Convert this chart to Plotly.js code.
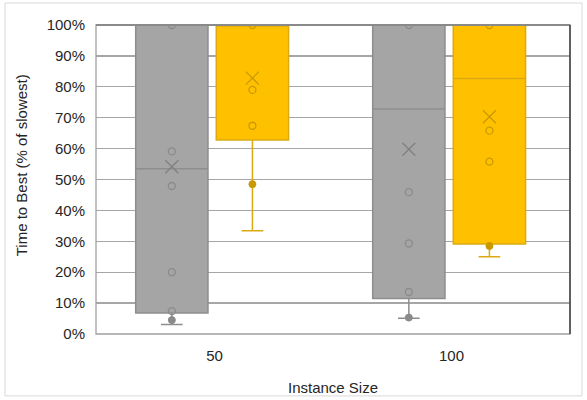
<!DOCTYPE html>
<html>
<head>
<meta charset="utf-8">
<script src="https://cdn.plot.ly/plotly-3.0.1.min.js"></script>
<style>
html,body{margin:0;padding:0;background:#fff;}
#chart{width:587px;height:400px;}
</style>
</head>
<body>
<div id="chart"></div>
<script>
// ---- data (fractions of slowest) ----
var categories = ['50', '100'];

var grayQ1     = [0.068, 0.115];
var grayMedian = [0.535, 0.728];
var grayQ3     = [1.000, 1.000];
var grayLower  = [0.031, 0.051];
var grayUpper  = [1.000, 1.000];
var grayMean   = [0.541, 0.598];
var grayPoints = [[1.000, 0.591, 0.479, 0.200, 0.074], [1.000, 0.459, 0.293, 0.136]];
var grayFilled = [0.045, 0.053];

var goldQ1     = [0.628, 0.291];
var goldMedian = [1.000, 0.827];
var goldQ3     = [1.000, 1.000];
var goldLower  = [0.334, 0.250];
var goldUpper  = [1.000, 1.000];
var goldMean   = [0.828, 0.703];
var goldPoints = [[1.000, 0.790, 0.674], [1.000, 0.658, 0.558]];
var goldFilled = [0.485, 0.285];

var yTickVals = [0, 0.1, 0.2, 0.3, 0.4, 0.5, 0.6, 0.7, 0.8, 0.9, 1.0];
var xTitle = 'Instance Size';
var yTitle = 'Time to Best (% of slowest)';

// ---- layout helpers ----
var grayOffset = -0.18, goldOffset = 0.16, boxWidth = 0.305;
var idx = categories.map(function (c, i) { return i; });
function posArr(off) { return idx.map(function (i) { return i + off; }); }
function pointTrace(pts, off, color) {
  var xs = [], ys = [];
  pts.forEach(function (arr, i) {
    arr.forEach(function (v) { xs.push(i + off); ys.push(v); });
  });
  return {
    type: 'scatter', mode: 'markers', x: xs, y: ys, hoverinfo: 'skip', showlegend: false,
    marker: {symbol: 'circle-open', size: 7, color: color, line: {color: color, width: 1.3}}
  };
}
function filledTrace(vals, off, color) {
  return {
    type: 'scatter', mode: 'markers', x: posArr(off), y: vals, hoverinfo: 'skip', showlegend: false,
    marker: {symbol: 'circle', size: 7, color: color, line: {color: color, width: 1}}
  };
}
function meanTrace(vals, off, color) {
  return {
    type: 'scatter', mode: 'markers', x: posArr(off), y: vals, hoverinfo: 'skip', showlegend: false,
    marker: {symbol: 'x-thin-open', size: 13, color: color, line: {color: color, width: 1.3}}
  };
}

var grayLine = '#8e8e8e', grayFill = '#a5a5a5', grayMark = '#8a8a8a';
var goldLine = '#dcaa10', goldFill = '#ffc000', goldMark = '#c99a00';

var traces = [
  {type: 'box', x: posArr(grayOffset), q1: grayQ1, median: grayMedian, q3: grayQ3,
   lowerfence: grayLower, upperfence: grayUpper, width: boxWidth, whiskerwidth: 0.3,
   boxpoints: false, fillcolor: grayFill, line: {color: grayLine, width: 1.5},
   hoverinfo: 'skip', showlegend: false},
  {type: 'box', x: posArr(goldOffset), q1: goldQ1, median: goldMedian, q3: goldQ3,
   lowerfence: goldLower, upperfence: goldUpper, width: boxWidth, whiskerwidth: 0.3,
   boxpoints: false, fillcolor: goldFill, line: {color: goldLine, width: 1.5},
   hoverinfo: 'skip', showlegend: false},
  pointTrace(grayPoints, grayOffset, grayMark),
  filledTrace(grayFilled, grayOffset, grayMark),
  pointTrace(goldPoints, goldOffset, goldMark),
  filledTrace(goldFilled, goldOffset, goldMark),
  meanTrace(grayMean, grayOffset, '#808080'),
  meanTrace(goldMean, goldOffset, goldMark)
];

var font = {family: 'Liberation Sans, Arial, sans-serif', size: 15, color: '#262626'};

var layout = {
  width: 587, height: 400,
  margin: {l: 96, r: 17, t: 24.5, b: 66},
  paper_bgcolor: '#ffffff', plot_bgcolor: '#ffffff',
  font: font,
  showlegend: false,
  xaxis: {
    range: [-0.5, 1.5], tickvals: idx, ticktext: categories,
    showgrid: false, zeroline: false, showline: false,
    ticks: '', ticklabelstandoff: 11, fixedrange: true,
    tickfont: font,
    title: {text: xTitle, font: font, standoff: 19}
  },
  yaxis: {
    range: [0, 1], tickvals: yTickVals, tickformat: '.0%',
    showgrid: true, gridcolor: '#a6a6a6', gridwidth: 1.3,
    zeroline: false, showline: false, ticks: '', ticklabelstandoff: 10,
    fixedrange: true, tickfont: font
  },
  annotations: [
    {text: yTitle, xref: 'paper', yref: 'paper', x: -75/474, y: (334 - 165) / 309.5,
     xanchor: 'center', yanchor: 'middle', textangle: -90, showarrow: false, font: font}
  ],
  shapes: [
    {type: 'rect', xref: 'paper', yref: 'paper', x0: 0, x1: 1, y0: 0, y1: 1,
     line: {color: '#a0a0a0', width: 1.3}, layer: 'above'},
    {type: 'line', xref: 'paper', yref: 'paper', x0: 0, x1: 1, y0: 1, y1: 1,
     line: {color: '#8a8a8a', width: 2}, layer: 'above'},
    {type: 'line', xref: 'paper', yref: 'paper', x0: 1, x1: 1, y0: 0, y1: 1,
     line: {color: '#404040', width: 1.5}, layer: 'above'},
    {type: 'rect', xref: 'paper', yref: 'paper', x0: -91/474, x1: 1 + 12/474, y0: -62/309.5, y1: 1 + 22/309.5,
     line: {color: '#d9d9d9', width: 1}, layer: 'below'}
  ]
};

Plotly.newPlot('chart', traces, layout, {displayModeBar: false, staticPlot: true});
</script>
</body>
</html>
